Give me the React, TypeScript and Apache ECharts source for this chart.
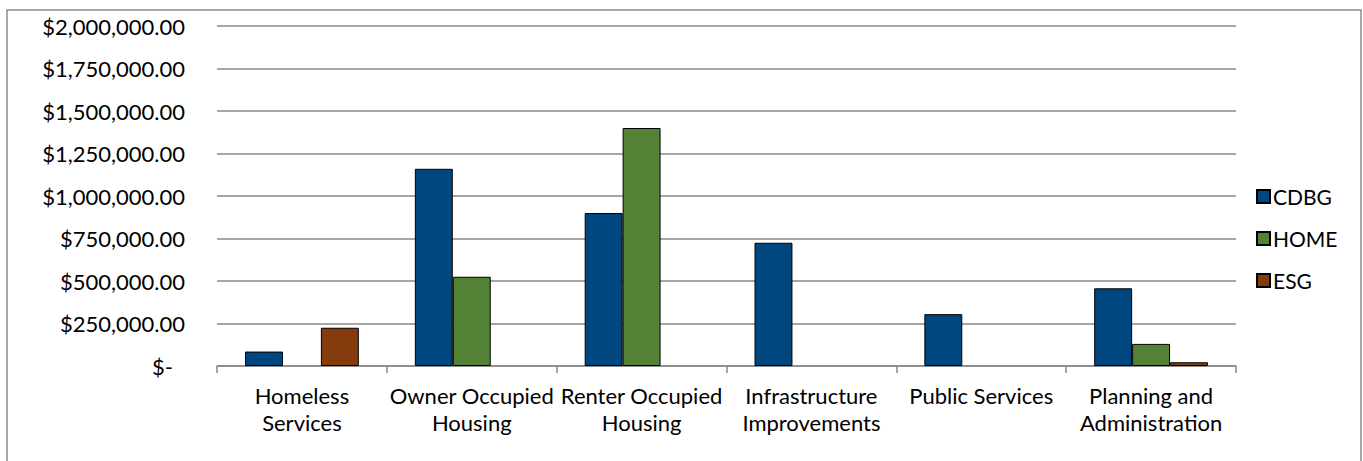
import React, { useEffect, useRef } from "react";
import * as echarts from "echarts";

const categories = [
  "Homeless\nServices",
  "Owner Occupied\nHousing",
  "Renter Occupied\nHousing",
  "Infrastructure\nImprovements",
  "Public Services",
  "Planning and\nAdministration",
];
const cdbg = [85000, 1160000, 900000, 725000, 305000, 457000];
const home = [null, 525000, 1400000, null, null, 130000];
const esg = [225000, null, null, null, null, 22000];

const FONT = "Lato";

export default function App() {
  const ref = useRef<HTMLDivElement>(null);
  useEffect(() => {
    const chart = echarts.init(ref.current!, null, { renderer: "svg" });
    const barStyle = (color: string) => ({
      color,
      borderColor: "#000",
      borderWidth: 1,
    });
    chart.setOption({
      animation: false,
      textStyle: { fontFamily: FONT },
      graphic: [
        {
          type: "rect",
          shape: { x: 7, y: 10, width: 1354, height: 480 },
          style: { fill: "none", stroke: "#8c8c8c", lineWidth: 1.5 },
          silent: true,
        },
      ],
      grid: { left: 217, right: 127, top: 26, bottom: 95 },
      legend: {
        orient: "vertical",
        left: 1251,
        top: 181,
        itemWidth: 13,
        itemHeight: 13,
        itemGap: 21,
        icon: "rect",
        textStyle: { fontFamily: FONT, fontSize: 21, color: "#000", padding: [0, 0, 0, -2] },
        data: ["CDBG", "HOME", "ESG"],
      },
      xAxis: {
        type: "category",
        data: categories,
        axisLine: { lineStyle: { color: "#888", width: 1.5 } },
        axisTick: { show: true, length: 7, lineStyle: { color: "#888", width: 1.5 } },
        axisLabel: {
          fontFamily: FONT,
          fontSize: 22,
          color: "#000",
          lineHeight: 27,
          margin: 16,
          interval: 0,
        },
      },
      yAxis: {
        type: "value",
        min: 0,
        max: 2000000,
        interval: 250000,
        axisLine: { show: false },
        axisTick: { show: false },
        splitLine: { lineStyle: { color: "#888", width: 1.5 } },
        axisLabel: {
          fontFamily: FONT,
          fontSize: 22,
          color: "#000",
          margin: 32,
          formatter: (v: number) =>
            v === 0
              ? "{z|$-}"
              : "$" + v.toLocaleString("en-US", { minimumFractionDigits: 2, maximumFractionDigits: 2 }),
          rich: { z: { fontFamily: FONT, fontSize: 22, color: "#000", padding: [0, 12, 0, 0] } },
        },
      },
      series: [
        { name: "CDBG", type: "bar", data: cdbg, barGap: "0%", barCategoryGap: "33%", itemStyle: barStyle("#00467F") },
        { name: "HOME", type: "bar", data: home, itemStyle: barStyle("#548235") },
        { name: "ESG", type: "bar", data: esg, itemStyle: barStyle("#843C0C") },
      ],
    });
    return () => chart.dispose();
  }, []);
  return (
    <div
      ref={ref}
      style={{ position: "absolute", left: 0, top: 0, width: 1363, height: 461, background: "#fff" }}
    />
  );
}
